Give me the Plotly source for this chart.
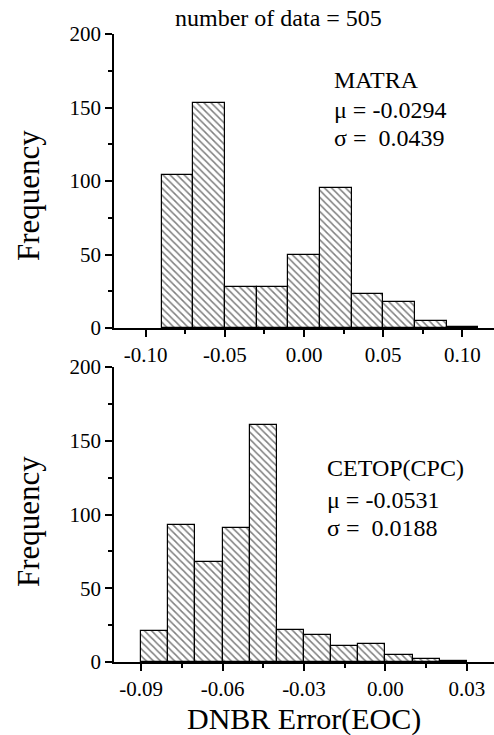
import plotly.graph_objects as go

# ---- data ----
matra_bin_left = [-0.09, -0.07, -0.05, -0.03, -0.01, 0.01, 0.03, 0.05, 0.07, 0.09]
matra_bin_width = 0.02
matra_counts = [104, 153, 28, 28, 50, 95, 23, 18, 5, 1]

cetop_bin_left = [-0.09, -0.08, -0.07, -0.06, -0.05, -0.04, -0.03, -0.02, -0.01, 0.00, 0.01, 0.02]
cetop_bin_width = 0.01
cetop_counts = [21, 93, 68, 91, 161, 22, 18, 11, 12, 5, 2, 1]

top_tick_vals = [-0.10, -0.05, 0.00, 0.05, 0.10]
top_tick_text = ["-0.10", "-0.05", "0.00", "0.05", "0.10"]
bot_tick_vals = [-0.09, -0.06, -0.03, 0.00, 0.03]
bot_tick_text = ["-0.09", "-0.06", "-0.03", "0.00", "0.03"]
y_tick_vals = [0, 50, 100, 150, 200]
y_tick_text = ["0", "50", "100", "150", "200"]

top_label = ["MATRA", "μ = -0.0294", "σ =\u00a0 0.0439"]
bot_label = ["CETOP(CPC)", "μ = -0.0531", "σ =\u00a0 0.0188"]
title_text = "number of data = 505"
x_title = "DNBR Error(EOC)"
y_title = "Frequency"

FONT = "Liberation Serif, Times New Roman, serif"

W, H = 494, 735
L, R, T, B = 114, 0, 34, 73
plot_h = H - T - B

def py(pix):  # pixel y -> paper y
    return (H - B - pix) / plot_h

def px(pix):
    return (pix - L) / (W - L - R)

fig = go.Figure()

def add_hist(lefts, width, counts, xa, ya):
    centers = [l + width / 2 for l in lefts]
    fig.add_trace(go.Bar(
        x=centers, y=counts, width=[width] * len(counts),
        xaxis=xa, yaxis=ya,
        marker=dict(color="white",
                    line=dict(color="black", width=1.2),
                    pattern=dict(shape="\\", fgcolor="black", bgcolor="white",
                                 size=5, solidity=0.3)),
        showlegend=False, hoverinfo="skip"))

add_hist(matra_bin_left, matra_bin_width, matra_counts, "x", "y")
add_hist(cetop_bin_left, cetop_bin_width, cetop_counts, "x2", "y2")

def mids(v):
    return [(a + b) / 2 for a, b in zip(v[:-1], v[1:])]

TICKF = dict(family=FONT, size=21, color="black")
common_x = dict(showline=True, linecolor="black", linewidth=1.5, ticks="outside",
                ticklen=7, tickwidth=1.5, tickcolor="black", showgrid=False, zeroline=False,
                tickfont=TICKF, tickmode="array")
common_y = dict(showline=True, linecolor="black", linewidth=1.5, ticks="outside",
                ticklen=7, tickwidth=1.5, tickcolor="black", showgrid=False, zeroline=False,
                range=[0, 200], tickmode="array", tickvals=y_tick_vals, ticktext=y_tick_text,
                tickfont=TICKF,
                minor=dict(tickmode="array", tickvals=mids(y_tick_vals), ticklen=4,
                           tickwidth=1.5, tickcolor="black", ticks="outside", showgrid=False))

fig.update_layout(
    width=W, height=H,
    margin=dict(l=L, r=R, t=T, b=B),
    paper_bgcolor="white", plot_bgcolor="white",
    bargap=0,
    xaxis=dict(domain=[0, 1], anchor="y", range=[-0.12, 0.12],
               tickvals=top_tick_vals, ticktext=top_tick_text,
               minor=dict(tickmode="array", tickvals=mids(top_tick_vals), ticklen=4,
                          tickwidth=1.5, tickcolor="black", ticks="outside", showgrid=False),
               **common_x),
    yaxis=dict(domain=[py(328), 1], anchor="x", **common_y),
    xaxis2=dict(domain=[0, 1], anchor="y2", range=[-0.10, 0.04],
                tickvals=bot_tick_vals, ticktext=bot_tick_text,
                minor=dict(tickmode="array", tickvals=mids(bot_tick_vals), ticklen=4,
                           tickwidth=1.5, tickcolor="black", ticks="outside", showgrid=False),
                **common_x),
    yaxis2=dict(domain=[0, py(367)], anchor="x2", **common_y),
)

ann = []
ann.append(dict(text=title_text, x=px(278), y=py(18), xref="paper", yref="paper",
                showarrow=False, xanchor="center", yanchor="middle",
                font=dict(family=FONT, size=24, color="black")))
ann.append(dict(text=x_title, x=px(304), y=py(719), xref="paper", yref="paper",
                showarrow=False, xanchor="center", yanchor="middle",
                font=dict(family=FONT, size=30, color="black")))
for yc in (196, 522):
    ann.append(dict(text=y_title, x=px(28), y=py(yc), xref="paper", yref="paper",
                    showarrow=False, xanchor="center", yanchor="middle", textangle=-90,
                    font=dict(family=FONT, size=31, color="black")))
for txt, yc in zip(top_label, (80, 110, 138)):
    ann.append(dict(text=txt, x=px(332), y=py(yc), xref="paper", yref="paper",
                    showarrow=False, xanchor="left", yanchor="middle",
                    font=dict(family=FONT, size=24, color="black")))
for txt, yc in zip(bot_label, (468, 500, 528)):
    ann.append(dict(text=txt, x=px(325), y=py(yc), xref="paper", yref="paper",
                    showarrow=False, xanchor="left", yanchor="middle",
                    font=dict(family=FONT, size=24, color="black")))
fig.update_layout(annotations=ann)

fig.write_html("out.html")
